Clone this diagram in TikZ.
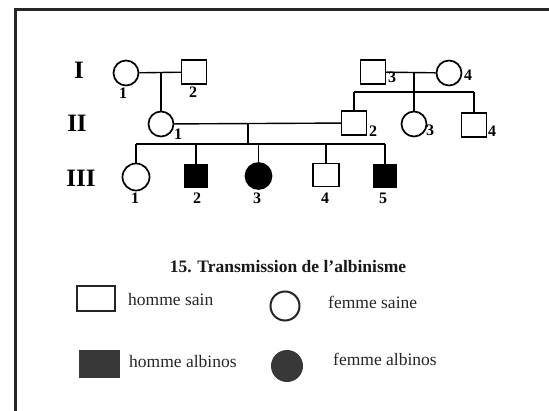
\documentclass[tikz,border=0pt]{standalone}
\usepackage{fontspec}
\setmainfont{Liberation Serif}
\begin{document}
\begin{tikzpicture}[x=1pt,y=-1pt,
  female/.style={draw, circle, line width=1.7pt, minimum size=25pt, inner sep=0pt},
  male/.style={draw, rectangle, line width=1.5pt, minimum width=25pt, minimum height=24pt, inner sep=0pt},
  aff/.style={fill=black},
  link/.style={line width=1.4pt},
  num/.style={inner sep=0pt, font=\fontsize{16}{16}\selectfont\bfseries},
  gen/.style={inner sep=0pt, font=\fontsize{25}{25}\selectfont\bfseries},
  leg/.style={inner sep=0pt, anchor=west, text=black!85, font=\fontsize{17.5}{18}\selectfont},
  legshape/.style={line width=2pt, draw=black!85, inner sep=0pt}
]
\useasboundingbox (0,0) rectangle (549,411);
\fill[white] (0,0) rectangle (549,411);
% frame
\draw[line width=3pt, black!85] (549,10) -- (15,10) -- (15,411);

% generation labels
\node[gen] (gI) at (79,70) {I};
\node[gen] (gII) at (77,123) {II};
\node[gen] (gIII) at (81,178) {III};

% generation I
\node[female] (i1) at (126,73) {};
\node[male] (i2) at (194,72) {};
\node[male] (i3) at (373,72) {};
\node[female] (i4) at (449,73) {};
\node[num] (li1) at (123,93) {1};
\node[num] (li2) at (193,92) {2};
\node[num] (li3) at (392,77) {3};
\node[num] (li4) at (468,75) {4};

% generation II
\node[female] (ii1) at (161,124) {};
\node[male] (ii2) at (354,123) {};
\node[female] (ii3) at (414,124) {};
\node[male] (ii4) at (474,125) {};
\node[num] (lii1) at (178,134) {1};
\node[num] (lii2) at (373,131) {2};
\node[num] (lii3) at (430,130) {3};
\node[num] (lii4) at (492,131) {4};

% generation III
\node[female, minimum size=27pt] (iii1) at (136,177) {};
\node[male, aff, minimum width=23pt, minimum height=22pt] (iii2) at (196,176) {};
\node[female, aff, minimum size=26pt] (iii3) at (258.5,176) {};
\node[male, minimum width=26pt, minimum height=23pt] (iii4) at (326,175) {};
\node[male, aff, minimum width=23pt, minimum height=22pt] (iii5) at (385,176) {};
\node[num] (liii1) at (135,198) {1};
\node[num] (liii2) at (197,198) {2};
\node[num] (liii3) at (257,198) {3};
\node[num] (liii4) at (325,198) {4};
\node[num] (liii5) at (383,198) {5};

% connectors generation I -> II
\coordinate (m1) at (161,72);
\draw[link] (i1) -- (i2);
\draw[link] (m1) -- (ii1.north);
\coordinate (m2) at (414,72);
\coordinate (s2l) at (354,92);
\coordinate (s2r) at (474,92);
\draw[link] (i3) -- (i4);
\draw[link] (m2) -- (ii3.north);
\draw[link] (s2l) -- (s2r);
\draw[link] (s2l) -- (ii2.north);
\draw[link] (s2r) -- (ii4.north);

% connectors generation II -> III
\coordinate (m3) at (248,123);
\coordinate (s3l) at (136,144);
\coordinate (s3r) at (385,144);
\coordinate (s3c) at (248,144);
\draw[link] (ii1) -- (ii2);
\draw[link] (m3) -- (s3c);
\draw[link] (s3l) -- (s3r);
\draw[link] (s3l) -- (iii1.north);
\draw[link] (s3l -| iii2.north) -- (iii2.north);
\draw[link] (s3l -| iii3.north) -- (iii3.north);
\draw[link] (s3l -| iii4.north) -- (iii4.north);
\draw[link] (s3r) -- (iii5.north);

% title and legend
\node[inner sep=0pt, font=\fontsize{17.5}{18}\selectfont\bfseries, text=black!90] (title) at (288,267) {15. Transmission de l’albinisme};

\node[legshape, rectangle, minimum width=38pt, minimum height=25pt] (lm) at (96,299) {};
\node[leg] (tlm) at (128,300) {homme sain};
\node[legshape, circle, minimum size=29pt] (lf) at (285,306) {};
\node[leg] (tlf) at (328,302) {femme saine};
\node[legshape, rectangle, fill=black!78, draw=black!78, minimum width=39pt, minimum height=26pt] (la) at (99,364.5) {};
\node[leg] (tla) at (129,362) {homme albinos};
\node[legshape, circle, fill=black!78, draw=black!78, minimum size=30pt] (lfa) at (287,366) {};
\node[leg] (tlfa) at (333,359) {femme albinos};
\end{tikzpicture}
\end{document}
